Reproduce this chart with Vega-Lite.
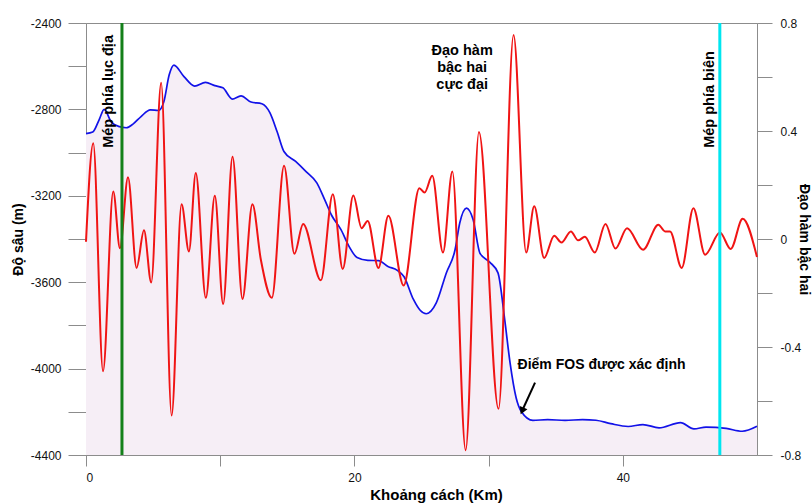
{
  "$schema": "https://vega.github.io/schema/vega-lite/v6.json",
  "width": 671,
  "height": 432,
  "autosize": {"type": "none"},
  "padding": {"left": 86, "top": 23, "right": 55, "bottom": 48},
  "background": "white",
  "config": {
    "view": {"stroke": "#8c8c8c", "strokeWidth": 1},
    "font": "Liberation Sans",
    "axis": {
      "labelFont": "Liberation Sans",
      "titleFont": "Liberation Sans",
      "labelColor": "#111111",
      "titleColor": "#000000",
      "domainColor": "#8c8c8c",
      "tickColor": "#8c8c8c",
      "grid": false,
      "labelFontSize": 12,
      "titleFontSize": 14,
      "titleFontWeight": "bold"
    }
  },
  "datasets": {
    "depth": [
      {"km": 0, "depth": -2912}, {"km": 0.5, "depth": -2905}, {"km": 1.0, "depth": -2845}, {"km": 1.35, "depth": -2800},
      {"km": 1.9, "depth": -2860}, {"km": 2.5, "depth": -2880}, {"km": 3.0, "depth": -2885}, {"km": 3.5, "depth": -2868},
      {"km": 4.1, "depth": -2833}, {"km": 4.8, "depth": -2802}, {"km": 5.4, "depth": -2805}, {"km": 5.8, "depth": -2765},
      {"km": 6.2, "depth": -2640}, {"km": 6.55, "depth": -2595}, {"km": 7.3, "depth": -2648}, {"km": 8.1, "depth": -2692},
      {"km": 8.9, "depth": -2675}, {"km": 9.6, "depth": -2690}, {"km": 10.2, "depth": -2700}, {"km": 10.9, "depth": -2752},
      {"km": 11.55, "depth": -2737}, {"km": 12.3, "depth": -2766}, {"km": 13.1, "depth": -2774}, {"km": 13.7, "depth": -2815},
      {"km": 14.25, "depth": -2905}, {"km": 14.75, "depth": -2995}, {"km": 15.6, "depth": -3040}, {"km": 16.4, "depth": -3088},
      {"km": 17.2, "depth": -3140}, {"km": 17.8, "depth": -3220}, {"km": 18.3, "depth": -3290}, {"km": 19.0, "depth": -3357},
      {"km": 19.6, "depth": -3434}, {"km": 20.2, "depth": -3486}, {"km": 21.0, "depth": -3499}, {"km": 21.8, "depth": -3500},
      {"km": 22.5, "depth": -3527}, {"km": 23.2, "depth": -3545}, {"km": 23.7, "depth": -3575}, {"km": 24.4, "depth": -3680},
      {"km": 24.9, "depth": -3730}, {"km": 25.35, "depth": -3746}, {"km": 26.1, "depth": -3696}, {"km": 26.85, "depth": -3557},
      {"km": 27.5, "depth": -3450}, {"km": 27.85, "depth": -3326}, {"km": 28.35, "depth": -3257}, {"km": 28.85, "depth": -3311},
      {"km": 29.35, "depth": -3465}, {"km": 30.1, "depth": -3508}, {"km": 30.7, "depth": -3557}, {"km": 31.2, "depth": -3773},
      {"km": 31.6, "depth": -3974}, {"km": 32.05, "depth": -4135}, {"km": 32.45, "depth": -4200}, {"km": 33.3, "depth": -4240},
      {"km": 34.4, "depth": -4236}, {"km": 35.7, "depth": -4240}, {"km": 37.0, "depth": -4236}, {"km": 38.0, "depth": -4239},
      {"km": 39.1, "depth": -4255}, {"km": 40.4, "depth": -4268}, {"km": 41.5, "depth": -4259}, {"km": 42.7, "depth": -4274},
      {"km": 44.3, "depth": -4250}, {"km": 45.3, "depth": -4279}, {"km": 46.2, "depth": -4271}, {"km": 47.7, "depth": -4277},
      {"km": 48.9, "depth": -4290}, {"km": 50, "depth": -4267}
    ],
    "deriv": [
      {"km": 0.0, "d": -0.01}, {"km": 0.54, "d": 0.355}, {"km": 1.27, "d": -0.49}, {"km": 2.03, "d": 0.176},
      {"km": 2.53, "d": -0.034}, {"km": 3.13, "d": 0.229}, {"km": 3.77, "d": -0.107}, {"km": 4.32, "d": 0.032},
      {"km": 4.86, "d": -0.161}, {"km": 5.6, "d": 0.579}, {"km": 6.38, "d": -0.654}, {"km": 7.12, "d": 0.129},
      {"km": 7.67, "d": -0.046}, {"km": 8.18, "d": 0.244}, {"km": 8.93, "d": -0.218}, {"km": 9.6, "d": 0.16},
      {"km": 10.22, "d": -0.241}, {"km": 10.92, "d": 0.305}, {"km": 11.66, "d": -0.222}, {"km": 12.4, "d": 0.129},
      {"km": 13.03, "d": -0.077}, {"km": 13.85, "d": -0.218}, {"km": 14.76, "d": 0.271}, {"km": 15.53, "d": -0.055},
      {"km": 16.18, "d": 0.056}, {"km": 17.5, "d": -0.153}, {"km": 18.39, "d": 0.166}, {"km": 19.13, "d": -0.111},
      {"km": 19.92, "d": 0.161}, {"km": 20.54, "d": 0.04}, {"km": 20.99, "d": 0.067}, {"km": 21.79, "d": -0.107},
      {"km": 22.53, "d": 0.086}, {"km": 23.67, "d": -0.172}, {"km": 24.84, "d": 0.188}, {"km": 25.23, "d": 0.172},
      {"km": 25.8, "d": 0.234}, {"km": 26.6, "d": -0.05}, {"km": 27.3, "d": 0.25}, {"km": 28.29, "d": -0.782},
      {"km": 29.28, "d": 0.396}, {"km": 30.74, "d": -0.629}, {"km": 31.86, "d": 0.756}, {"km": 32.8, "d": -0.05},
      {"km": 33.4, "d": 0.121}, {"km": 34.14, "d": -0.07}, {"km": 34.89, "d": 0.012}, {"km": 35.43, "d": -0.013},
      {"km": 36.13, "d": 0.028}, {"km": 36.67, "d": -0.005}, {"km": 37.17, "d": 0.008}, {"km": 37.91, "d": -0.05},
      {"km": 38.71, "d": 0.056}, {"km": 39.45, "d": -0.035}, {"km": 40.32, "d": 0.04}, {"km": 41.51, "d": -0.04},
      {"km": 42.65, "d": 0.053}, {"km": 43.15, "d": 0.028}, {"km": 43.52, "d": 0.028}, {"km": 44.39, "d": -0.107},
      {"km": 45.26, "d": 0.114}, {"km": 46.13, "d": -0.058}, {"km": 47.24, "d": 0.024}, {"km": 48.04, "d": -0.037},
      {"km": 48.93, "d": 0.075}, {"km": 50.0, "d": -0.067}
    ]
  },
  "layer": [
    {
      "data": {"name": "depth"},
      "layer": [
        {
          "mark": {"type": "area", "interpolate": "monotone", "color": "#f6eef6"},
          "encoding": {
            "x": {
              "field": "km", "type": "quantitative",
              "scale": {"domain": [0, 50], "nice": false},
              "axis": {
                "orient": "bottom",
                "values": [0, 10, 20, 30, 40],
                "labelExpr": "datum.value % 20 == 0 ? '' + datum.value : ''",
                "tickSize": 11,
                "labelPadding": 6,
                "title": "Khoảng cách (Km)",
                "titleFontSize": 15,
                "titleX": 350,
                "titleY": 44,
                "titleBaseline": "alphabetic"
              }
            },
            "y": {
              "field": "depth", "type": "quantitative",
              "scale": {"domain": [-4400, -2400], "nice": false, "zero": false},
              "axis": {
                "orient": "left",
                "values": [-4400, -4200, -4000, -3800, -3600, -3400, -3200, -3000, -2800, -2600, -2400],
                "labelExpr": "datum.value % 400 == 0 ? '' + datum.value : ''",
                "tickSize": 18,
                "labelPadding": 7,
                "title": "Độ sâu (m)",
                "titleX": -68,
                "titleY": 216,
                "titleAngle": 270,
                "titleAlign": "center",
                "titleBaseline": "middle"
              }
            },
            "y2": {"datum": -4400}
          }
        },
        {
          "mark": {"type": "line", "interpolate": "monotone", "color": "#1212e8", "strokeWidth": 1.7},
          "encoding": {
            "x": {"field": "km", "type": "quantitative"},
            "y": {"field": "depth", "type": "quantitative"}
          }
        }
      ]
    },
    {
      "data": {"name": "deriv"},
      "mark": {"type": "line", "interpolate": "monotone", "color": "#f01414", "strokeWidth": 2},
      "encoding": {
        "x": {"field": "km", "type": "quantitative"},
        "y": {
          "field": "d", "type": "quantitative",
          "scale": {"domain": [-0.8, 0.8], "nice": false, "zero": false},
          "axis": {
            "orient": "right",
            "values": [-0.8, -0.6, -0.4, -0.2, 0, 0.2, 0.4, 0.6, 0.8],
            "labelExpr": "round(datum.value * 10) % 4 == 0 ? '' + round(datum.value * 10) / 10 : ''",
            "tickSize": 15,
            "labelPadding": 8,
            "title": "Đạo hàm bậc hai",
            "titleX": 46,
            "titleY": 216,
            "titleAngle": 90,
            "titleAlign": "center",
            "titleBaseline": "middle"
          }
        }
      }
    },
    {
      "layer": [
        {
          "data": {"values": [{"km": 2.68}]},
          "mark": {"type": "rule", "color": "#14801a", "strokeWidth": 3},
          "encoding": {"x": {"field": "km", "type": "quantitative"}}
        },
        {
          "data": {"values": [{"km": 47.23}]},
          "mark": {"type": "rule", "color": "#00e6f0", "strokeWidth": 3},
          "encoding": {"x": {"field": "km", "type": "quantitative"}}
        },
        {
          "data": {"values": [{"km": 33.46, "depth": -4065, "km2": 32.55, "depth2": -4188}]},
          "mark": {"type": "rule", "color": "#000000", "strokeWidth": 2},
          "encoding": {
            "x": {"field": "km", "type": "quantitative"},
            "y": {"field": "depth", "type": "quantitative", "scale": {"domain": [-4400, -2400], "nice": false, "zero": false}, "axis": null},
            "x2": {"field": "km2"},
            "y2": {"field": "depth2"}
          }
        },
        {
          "data": {"values": [{"km": 32.5, "depth": -4196}]},
          "mark": {"type": "point", "shape": "triangle-up", "filled": true, "color": "#000000", "size": 70, "angle": 204, "opacity": 1},
          "encoding": {
            "x": {"field": "km", "type": "quantitative"},
            "y": {"field": "depth", "type": "quantitative", "scale": {"domain": [-4400, -2400], "nice": false, "zero": false}, "axis": null}
          }
        },
        {
          "data": {"values": [{"km": 1.75, "depth": -2978, "label": "Mép phía lục địa"}, {"km": 46.52, "depth": -2978, "label": "Mép phía biên"}]},
          "mark": {"type": "text", "angle": 270, "align": "left", "baseline": "middle", "fontSize": 14.5, "fontWeight": "bold", "font": "Liberation Sans", "color": "#000000"},
          "encoding": {
            "x": {"field": "km", "type": "quantitative"},
            "y": {"field": "depth", "type": "quantitative", "scale": {"domain": [-4400, -2400], "nice": false, "zero": false}, "axis": null},
            "text": {"field": "label"}
          }
        },
        {
          "data": {"values": [{"km": 28.03, "depth": -2497, "label": "Đạo hàm\nbậc hai\ncực đại"}]},
          "mark": {"type": "text", "align": "center", "baseline": "top", "lineBreak": "\n", "lineHeight": 17, "fontSize": 14.5, "fontWeight": "bold", "font": "Liberation Sans", "color": "#000000"},
          "encoding": {
            "x": {"field": "km", "type": "quantitative"},
            "y": {"field": "depth", "type": "quantitative", "scale": {"domain": [-4400, -2400], "nice": false, "zero": false}, "axis": null},
            "text": {"field": "label"}
          }
        },
        {
          "data": {"values": [{"km": 32.16, "depth": -4000, "label": "Điểm FOS được xác định"}]},
          "mark": {"type": "text", "align": "left", "baseline": "alphabetic", "fontSize": 14, "fontWeight": "bold", "font": "Liberation Sans", "color": "#000000"},
          "encoding": {
            "x": {"field": "km", "type": "quantitative"},
            "y": {"field": "depth", "type": "quantitative", "scale": {"domain": [-4400, -2400], "nice": false, "zero": false}, "axis": null},
            "text": {"field": "label"}
          }
        }
      ]
    }
  ],
  "resolve": {"scale": {"y": "independent"}}
}
